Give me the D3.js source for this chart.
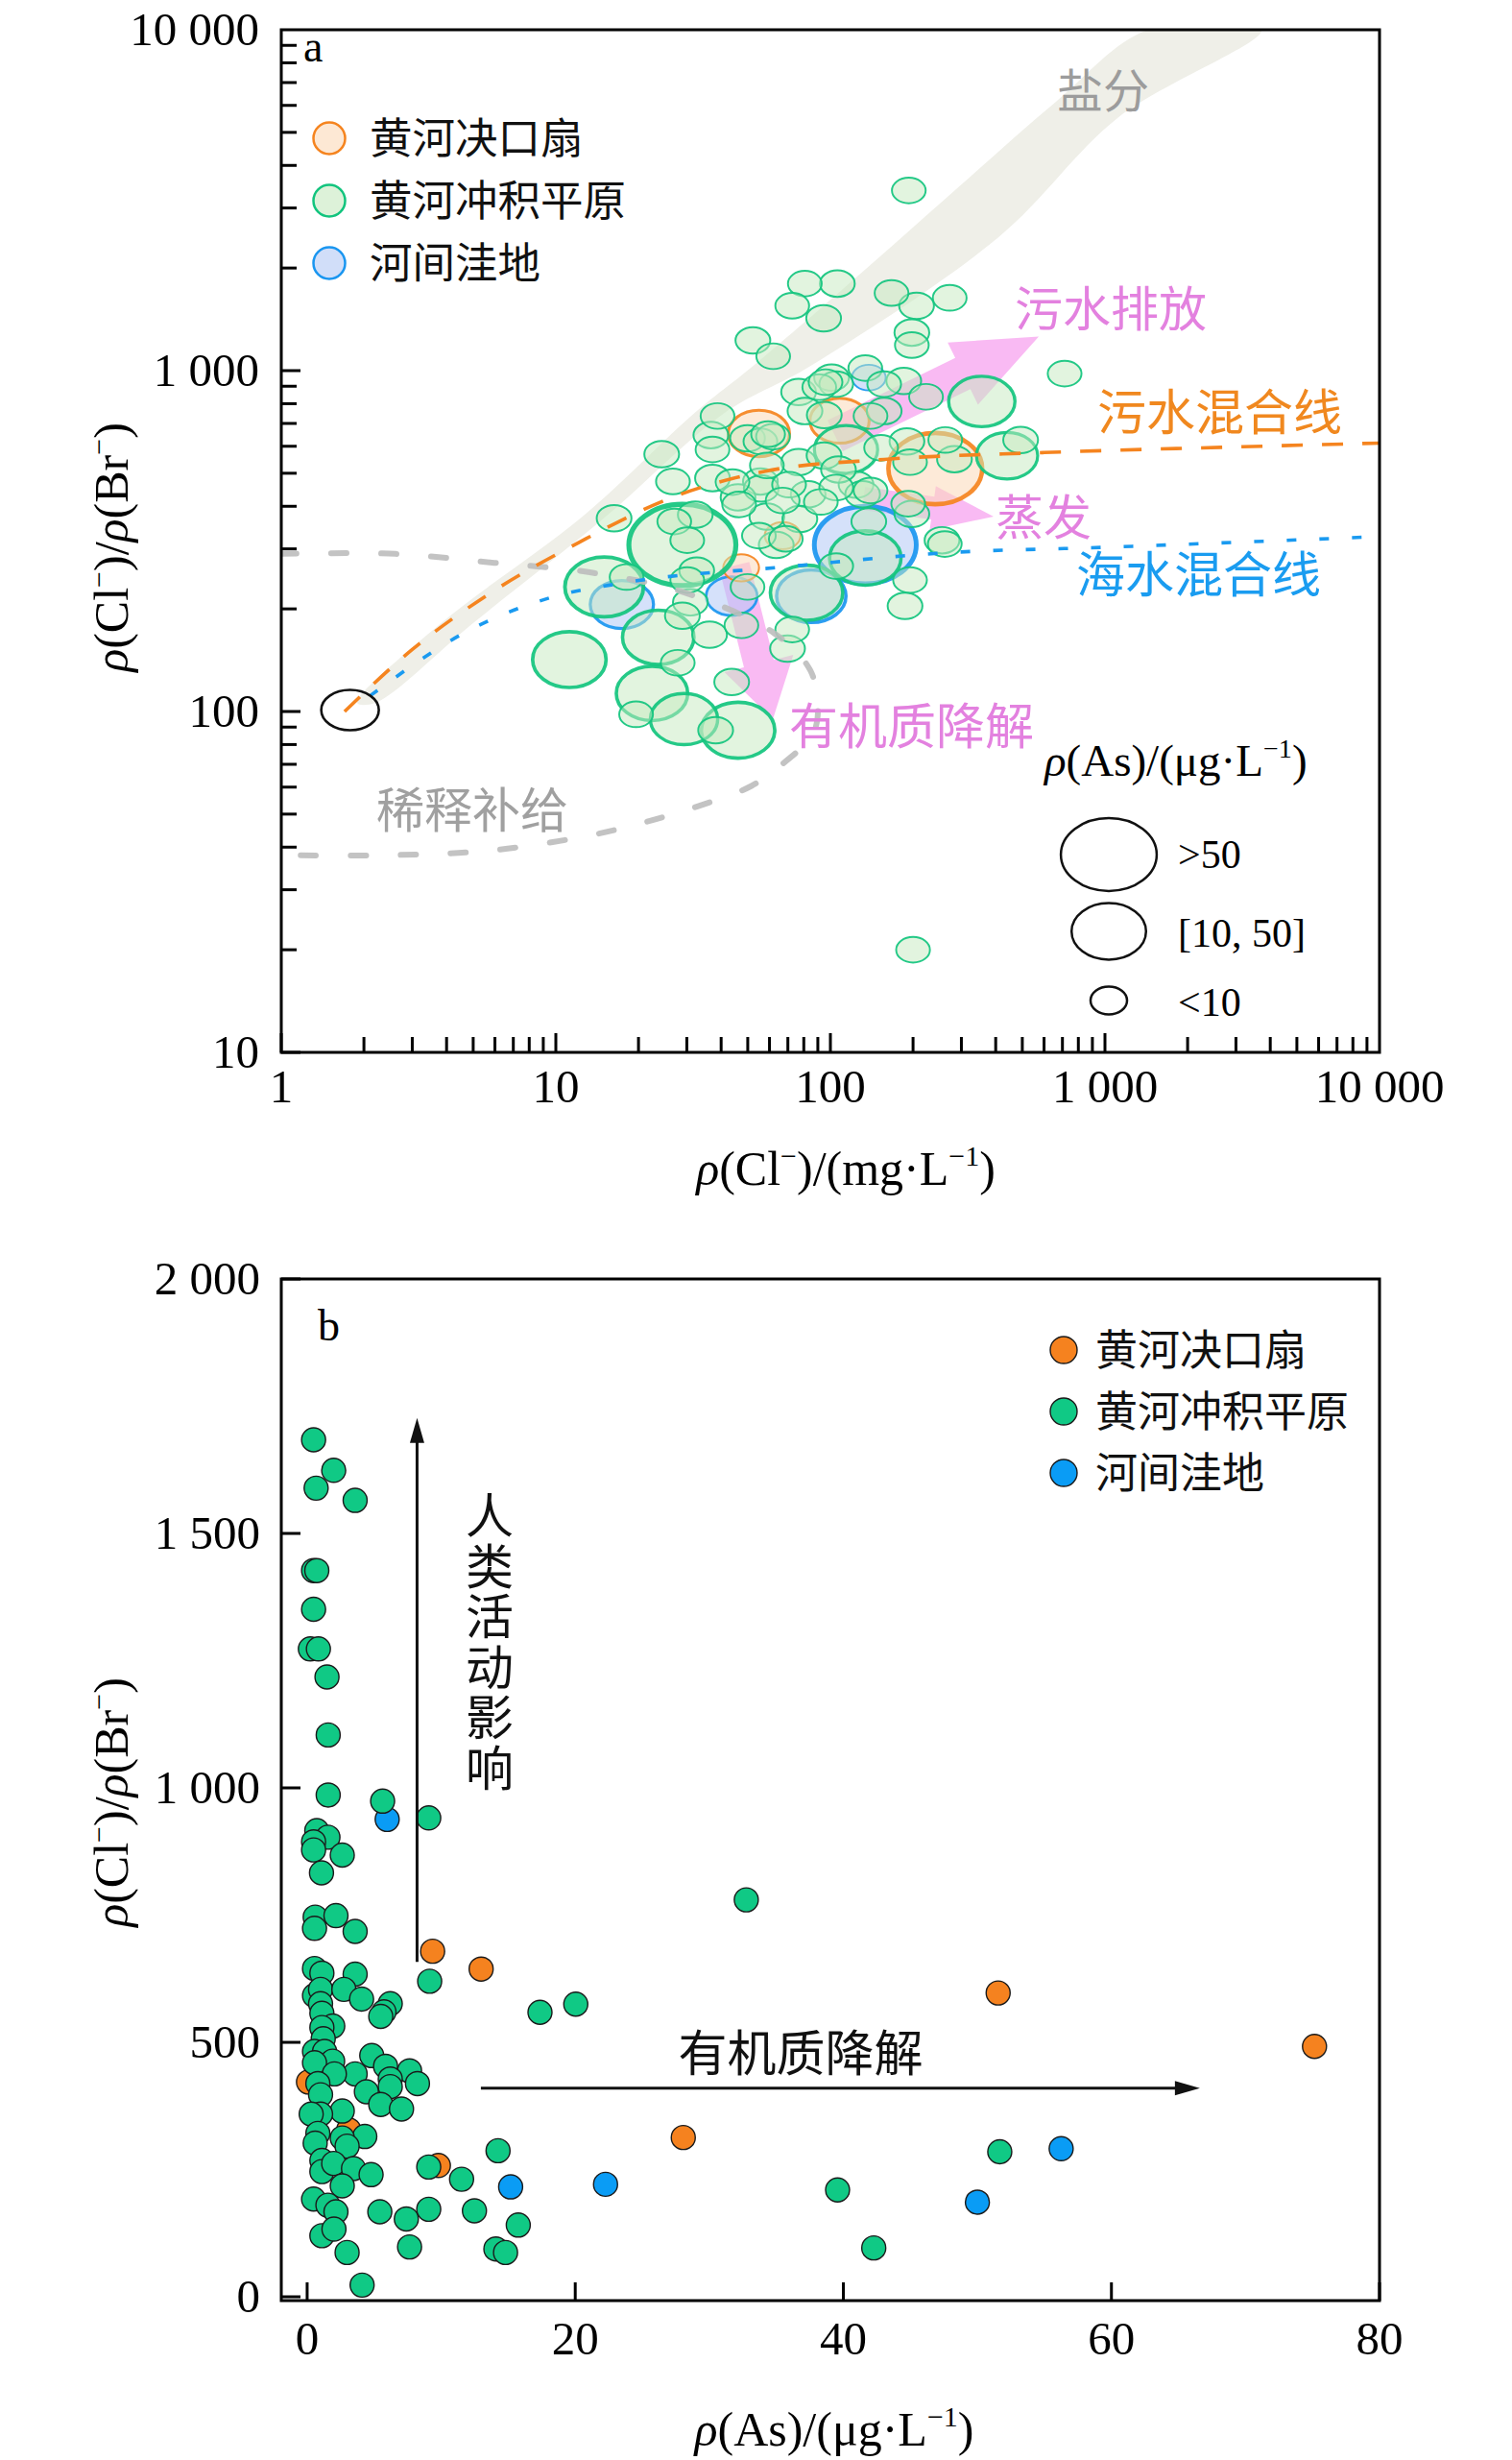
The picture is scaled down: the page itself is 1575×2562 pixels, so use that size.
<!DOCTYPE html>
<html><head><meta charset="utf-8">
<script src="https://cdn.jsdelivr.net/npm/d3@7"></script>
<style>body{margin:0;background:#fff}</style>
</head><body>
<svg id="c" width="1575" height="2562"></svg>
<script>
// ---------------- DATA ----------------
const groupNames = ["黄河决口扇", "黄河冲积平原", "河间洼地"];
// Panel a: [Cl (mg/L), Cl/Br, As (µg/L)]
const aFan = [[54.9,654,30],[108,713,28],[241,516,62],[47.3,264,5],[67,328,5]];
const aDep = [[138,954,3],[134,308,70],[17.4,206,32],[43.7,218,20],[85.2,218,38]];
const aPlainBig = [[356,812,35],[114,587,32],[440,563,30],[28.9,308,75],[134,282,40],[15.0,232,47],
  [81.9,223,41],[23.6,165,40],[11.2,142,42],[22.4,113,40],[29.3,95,36],[46.1,88.1,42]];
const aPlainSmall = [[80.7,1800,3],[106,1800,4],[72.6,1550,3],[94.5,1424,4],[167,1689,3],[206,1550,4],
  [272,1635,3],[198,1293,4],[198,1188,3],[52.2,1226,4],[61.9,1102,3],[193,3377,3],[713,980,3],
  [493,626,4],[261,310,3],[200,20.0,3],[134,1017,3],[101,954,4],[105,913,3],[76.6,866,4],[91.1,894,3],
  [157,913,3],[185,933,4],[223,838,3],[80.8,761,4],[140,736,3],[157,761,4],[38.8,736,3],[36.7,647,4],
  [37.2,587,3],[24.3,569,4],[26.7,473,3],[37.2,484,4],[55.6,620,3],[49.9,633,4],[61.8,640,3],
  [76.6,539,4],[58.7,527,3],[94.8,563,4],[153,594,3],[190,620,4],[262,626,3],[283,550,4],[195,539,3],
  [55.6,473,4],[70.7,463,3],[46.1,425,4],[67.0,416,3],[83.0,434,4],[105,454,3],[124,463,4],[92.3,412,3],
  [131,434,4],[192,407,3],[16.3,369,4],[27.0,361,3],[32.2,378,4],[30.1,318,3],[58.7,373,4],[54.9,328,3],
  [63.5,308,4],[68.8,321,3],[138,361,4],[105,267,3],[255,318,4],[195,243,3],[187,204,4],[18.1,248,3],
  [32.6,259,4],[30.1,243,3],[30.9,209,4],[49.9,232,3],[28.9,191,4],[47.4,179,3],[36.3,168,4],
  [72.6,174,3],[69.8,153,4],[27.8,139,3],[43.7,122,4],[19.6,98.1,3],[38.2,88.1,4],
  [96,925,3],[95,741,4],[59.3,651,3],[107,513,4],[44,471,3],[56,451,4],[140,445,3],[198,380,4],
  [46.5,405,3],[77.4,367,4]];
// reference / mixing lines (Cl, Cl/Br)
const sewageLine = [[1.7,100],[3,152],[5.8,223],[12.2,314],[26,422],[58,507],[157,549],[600,575],[3160,598],[10000,613]];
const seawaterLine = [[2.1,111],[4.96,175],[9.6,216],[18.6,240],[69.6,266],[261,292],[977,303],[10000,326]];
const dilutionLine = [[1,290],[2.61,290],[5.97,273],[13.3,256],[29.6,223],[62.2,170],[84.5,132],[90.1,101],
  [85.9,85.4],[66.4,69.8],[51.6,60.5],[32.4,52.5],[21,47.3],[13.7,43.5],[5.97,39.2],[2.52,37.9],[1,37.9]];
const salinityLeft = [[1.89,106],[3.8,181],[12.5,373],[32.1,753],[52.5,1035],[132,1959],[297,3492],[663,6152],[1437,10000]];
const salinityRight = [[3715,10000],[1119,5534],[409,2460],[85.1,1035],[41.3,753],[15.2,373],[4.97,181],[2.2,106]];
const endMember = [1.78, 101];
// process arrows [tail, tip] in (Cl, Cl/Br)
const arrowSewage = [[104,644],[574,1259]];
const arrowEvap = [[132,422],[393,373]];
const arrowOM = [[44.7,268],[61.7,94.8]];
const sizeLegend = [[">50",64],["[10, 50]",43],["<10",5.7]];
const xTicksA = [1,10,100,1000,10000];
const yTicksA = [10,100,1000,10000];

// Panel b: [As (µg/L), Cl/Br]
const bFan = [[9.36,679],[12.98,644],[9.79,258],[28.06,313],[51.55,597],[75.15,492],[0.1,422],[3.1,328]];
const bDep = [[5.97,938],[15.18,216],[22.26,221],[50.0,186],[56.25,291]];
const bPlain = [[0.48,1684],[1.98,1624],[0.67,1589],[3.58,1565],[0.48,1427],[0.72,1427],[0.48,1351],[0.24,1273],
  [0.84,1273],[1.48,1218],[1.57,1104],[1.57,986],[5.63,974],[9.07,941],[0.72,916],[1.55,903],[0.48,894],[0.48,878],
  [2.62,868],[1.07,833],[0.6,746],[2.15,749],[0.55,724],[3.58,718],[9.14,620],[17.37,559],[20.04,575],[0.55,645],
  [1.1,636],[3.58,634],[0.55,592],[1.0,604],[2.74,604],[4.06,585],[6.2,576],[5.73,560],[5.49,551],[1.0,576],
  [1.1,557],[1.91,532],[1.1,529],[1.2,507],[0.55,482],[1.3,482],[1.9,463],[0.55,460],[4.82,474],[5.85,453],
  [7.64,444],[8.23,419],[6.2,428],[6.2,413],[3.58,438],[2.03,438],[4.42,403],[5.49,378],[7.04,369],[0.8,419],
  [1.0,397],[2.62,365],[1.0,359],[0.3,359],[4.3,315],[0.8,321],[0.6,302],[2.62,312],[2.98,296],[1.1,268],
  [1.1,246],[1.98,262],[3.46,252],[4.77,240],[2.62,218],[0.48,192],[1.55,180],[2.15,167],[9.07,255],[11.52,231],
  [14.24,287],[5.42,167],[7.4,153],[9.07,172],[12.48,169],[15.75,141],[1.1,120],[2.0,133],[2.98,87],[7.64,98],
  [14.08,94],[14.8,87],[4.1,23],[32.76,780],[39.57,210],[42.27,96],[51.67,285]];
const xTicksB = [0,20,40,60,80];
const yTicksB = [0,500,1000,1500,2000];
const arrowHuman = [[8.2,658],[8.2,1727]];
const arrowOMb = [[12.96,410],[66.6,410]];

// ---------------- STYLE ----------------
const serif = "'Liberation Serif','Times New Roman',serif";
const cjk = "'Noto Sans CJK SC','Noto Sans CJK JP',sans-serif";
const ringCol = ["#f5841f", "#12c47e", "#1a96f0"];
const fillCol = ["#fbd9b8", "#c6eac0", "#b3c8f5"];
const dotCol = ["#f5821f", "#10c985", "#0a9cf5"];
const pink = "#f8b2f2", pinkText = "#e381df";

const svg = d3.select("#c");
const fmt = v => d3.format(",")(v).replace(/,/g, " ");

function rich(t, parts, fs) {
  let up = false;
  parts.forEach(p => {
    const s = t.append("tspan").text(p.t);
    if (p.i) s.attr("font-style", "italic");
    if (p.sup) { s.attr("font-size", fs * 0.6); if (!up) s.attr("dy", -fs * 0.4); up = true; }
    else if (up) { s.attr("dy", fs * 0.4); up = false; }
  });
}
function arrowPoly(T, P, bw, hw, hl) {
  const dx = P[0] - T[0], dy = P[1] - T[1], L = Math.hypot(dx, dy);
  const ux = dx / L, uy = dy / L, nx = -uy, ny = ux;
  const bx = P[0] - ux * hl, by = P[1] - uy * hl;
  return [[T[0] + nx * bw / 2, T[1] + ny * bw / 2], [bx + nx * bw / 2, by + ny * bw / 2], [bx + nx * hw / 2, by + ny * hw / 2],
    P, [bx - nx * hw / 2, by - ny * hw / 2], [bx - nx * bw / 2, by - ny * bw / 2], [T[0] - nx * bw / 2, T[1] - ny * bw / 2]];
}

// ================= PANEL A =================
const xA = d3.scaleLog().domain([1, 10000]).range([293, 1437]);
const yA = d3.scaleLog().domain([10, 10000]).range([1096, 31]);
const gA = svg.append("g");
svg.append("defs").append("clipPath").attr("id", "clipA").append("rect")
  .attr("x", 293).attr("y", 31).attr("width", 1144).attr("height", 1065);
const pA = gA.append("g").attr("clip-path", "url(#clipA)");
const P = d => [xA(d[0]), yA(d[1])];

// salinity band
const band = salinityLeft.concat(salinityRight).map(P);
pA.append("path").attr("d", d3.line().curve(d3.curveCatmullRomClosed.alpha(0.5))(band)).attr("fill", "#efefe8");

// pink process arrows
[[arrowSewage, 36, 72, 88], [arrowEvap, 24, 46, 64], [arrowOM, 32, 74, 60]].forEach(([a, bw, hw, hl]) => {
  pA.append("path").attr("d", d3.line()(arrowPoly(P(a[0]), P(a[1]), bw, hw, hl)) + "Z")
    .attr("fill", pink).attr("opacity", 0.9);
});

// bubbles
const rxS = d3.scaleLinear().domain([0, 80]).range([16, 58.4]);
function bubbles(data, gi) {
  const sorted = data.slice().sort((a, b) => b[2] - a[2]);
  pA.append("g").selectAll("ellipse").data(sorted).join("ellipse")
    .attr("cx", d => xA(d[0])).attr("cy", d => yA(d[1]))
    .attr("rx", d => rxS(d[2])).attr("ry", d => rxS(d[2]) * 0.76)
    .attr("fill", fillCol[gi]).attr("fill-opacity", gi === 1 ? 0.5 : 0.55)
    .attr("stroke", ringCol[gi]).attr("stroke-opacity", 0.92)
    .attr("stroke-width", d => 1.8 + d[2] * 0.045);
}
bubbles(aDep, 2);
bubbles(aFan, 0);
bubbles(aPlainBig.concat(aPlainSmall), 1);

// lines
const lineA = d3.line().x(d => xA(d[0])).y(d => yA(d[1]));
pA.append("path").attr("d", lineA.curve(d3.curveCatmullRom)(dilutionLine)).attr("fill", "none")
  .attr("stroke", "#bdbdbd").attr("stroke-width", 6).attr("stroke-dasharray", "16 36").attr("stroke-linecap", "round").attr("opacity", 0.9);
pA.append("path").attr("d", lineA.curve(d3.curveMonotoneX)(sewageLine)).attr("fill", "none")
  .attr("stroke", "#f5841f").attr("stroke-width", 3.6).attr("stroke-dasharray", "22 20");
pA.append("path").attr("d", lineA.curve(d3.curveMonotoneX)(seawaterLine)).attr("fill", "none")
  .attr("stroke", "#1a9af0").attr("stroke-width", 3.6).attr("stroke-dasharray", "10 24");

// end-member circle
pA.append("ellipse").attr("cx", xA(endMember[0])).attr("cy", yA(endMember[1])).attr("rx", 30).attr("ry", 21)
  .attr("fill", "none").attr("stroke", "#111").attr("stroke-width", 2.6);

// frame & ticks
gA.append("rect").attr("x", 293).attr("y", 31).attr("width", 1144).attr("height", 1065)
  .attr("fill", "none").attr("stroke", "#000").attr("stroke-width", 3);
for (let d = 1; d < 10000; d *= 10) for (let k = 1; k <= 9; k++) {
  const v = d * k, len = k === 1 ? 20 : 16;
  gA.append("line").attr("x1", xA(v)).attr("x2", xA(v)).attr("y1", 1096).attr("y2", 1096 - len).attr("stroke", "#000").attr("stroke-width", 3);
}
for (let d = 10; d < 10000; d *= 10) for (let k = 1; k <= 9; k++) {
  const v = d * k, len = k === 1 ? 20 : 16;
  gA.append("line").attr("y1", yA(v)).attr("y2", yA(v)).attr("x1", 293).attr("x2", 293 + len).attr("stroke", "#000").attr("stroke-width", 3);
}
gA.selectAll(".xl").data(xTicksA).join("text").attr("x", d => xA(d)).attr("y", 1148).attr("text-anchor", "middle")
  .attr("font-family", serif).attr("font-size", 49).text(fmt);
gA.selectAll(".yl").data(yTicksA).join("text").attr("x", 270).attr("y", d => yA(d) + 16).attr("text-anchor", "end")
  .attr("font-family", serif).attr("font-size", 49).text(fmt);

// axis titles
rich(gA.append("text").attr("x", 881).attr("y", 1234).attr("text-anchor", "middle").attr("font-family", serif).attr("font-size", 50),
  [{t: "ρ", i: 1}, {t: "(Cl"}, {t: "−", sup: 1}, {t: ")/(mg·L"}, {t: "−1", sup: 1}, {t: ")"}], 50);
rich(gA.append("text").attr("transform", "translate(133,570) rotate(-90)").attr("text-anchor", "middle").attr("font-family", serif).attr("font-size", 50),
  [{t: "ρ", i: 1}, {t: "(Cl"}, {t: "−", sup: 1}, {t: ")/"}, {t: "ρ", i: 1}, {t: "(Br"}, {t: "−", sup: 1}, {t: ")"}], 50);
gA.append("text").attr("x", 316).attr("y", 64).attr("font-family", serif).attr("font-size", 46).text("a");

// group legend
groupNames.forEach((n, i) => {
  const cy = 144 + i * 65;
  gA.append("circle").attr("cx", 343).attr("cy", cy).attr("r", 16.5).attr("fill", fillCol[i]).attr("fill-opacity", 0.6)
    .attr("stroke", ringCol[i]).attr("stroke-width", 2.5);
  gA.append("text").attr("x", 385).attr("y", cy + 16).attr("font-family", cjk).attr("font-size", 44.5).attr("fill", "#111").text(n);
});

// annotation labels
const lab = (x, y, t, c, fs) => gA.append("text").attr("x", x).attr("y", y).attr("font-family", cjk).attr("font-size", fs).attr("fill", c).text(t);
lab(1101, 112, "盐分", "#9c9c9c", 48);
lab(1057, 340, "污水排放", pinkText, 50);
lab(1143, 448, "污水混合线", "#f0881f", 51);
lab(1037, 557, "蒸发", pinkText, 50);
lab(1121, 617, "海水混合线", "#1a9cf0", 51);
lab(822, 775, "有机质降解", pinkText, 51);
lab(392, 862, "稀释补给", "#a0a0a0", 50);

// size legend
rich(gA.append("text").attr("x", 1088).attr("y", 808).attr("font-family", serif).attr("font-size", 47),
  [{t: "ρ", i: 1}, {t: "(As)/(μg·L"}, {t: "−1", sup: 1}, {t: ")"}], 47);
const slY = [890, 970, 1042], slTY = [904, 986, 1058];
sizeLegend.forEach((s, i) => {
  gA.append("ellipse").attr("cx", 1155).attr("cy", slY[i]).attr("rx", rxS(s[1])).attr("ry", rxS(s[1]) * 0.76)
    .attr("fill", "none").attr("stroke", "#111").attr("stroke-width", 2.5);
  gA.append("text").attr("x", 1227).attr("y", slTY[i]).attr("font-family", serif).attr("font-size", 42).text(s[0]);
});

// ================= PANEL B =================
const xB = d3.scaleLinear().domain([-1.93, 80]).range([293, 1437]);
const yB = d3.scaleLinear().domain([-7.5, 2000]).range([2396, 1332]);
const gB = svg.append("g");

[[bFan, 0], [bDep, 2], [bPlain, 1]].forEach(([data, gi]) => {
  gB.append("g").selectAll("circle").data(data).join("circle")
    .attr("cx", d => xB(d[0])).attr("cy", d => yB(d[1])).attr("r", 12.5)
    .attr("fill", dotCol[gi]).attr("stroke", "#1a1a1a").attr("stroke-width", 1.4);
});

// arrows
function lineArrow(a, dir) {
  const x1 = xB(a[0][0]), y1 = yB(a[0][1]), x2 = xB(a[1][0]), y2 = yB(a[1][1]);
  const hl = 26, hw = 15;
  if (dir === "up") {
    gB.append("line").attr("x1", x1).attr("y1", y1).attr("x2", x2).attr("y2", y2 + hl - 2).attr("stroke", "#111").attr("stroke-width", 3);
    gB.append("path").attr("d", d3.line()([[x2, y2], [x2 - hw / 2, y2 + hl], [x2 + hw / 2, y2 + hl]]) + "Z").attr("fill", "#111");
  } else {
    gB.append("line").attr("x1", x1).attr("y1", y1).attr("x2", x2 - hl + 2).attr("y2", y2).attr("stroke", "#111").attr("stroke-width", 3);
    gB.append("path").attr("d", d3.line()([[x2, y2], [x2 - hl, y2 - hw / 2], [x2 - hl, y2 + hw / 2]]) + "Z").attr("fill", "#111");
  }
}
lineArrow(arrowHuman, "up");
lineArrow(arrowOMb, "right");
gB.append("text").attr("x", 510).attr("y", 1553)
  .style("writing-mode", "vertical-rl").attr("letter-spacing", 2.6)
  .attr("font-family", cjk).attr("font-size", 50).attr("fill", "#111").text("人类活动影响");
gB.append("text").attr("x", 834).attr("y", 2157).attr("text-anchor", "middle").attr("font-family", cjk)
  .attr("font-size", 51).attr("fill", "#111").text("有机质降解");

// frame & ticks
gB.append("rect").attr("x", 293).attr("y", 1332).attr("width", 1144).attr("height", 1064)
  .attr("fill", "none").attr("stroke", "#000").attr("stroke-width", 3);
xTicksB.forEach(v => gB.append("line").attr("x1", xB(v)).attr("x2", xB(v)).attr("y1", 2396).attr("y2", 2377).attr("stroke", "#000").attr("stroke-width", 3));
yTicksB.forEach(v => gB.append("line").attr("y1", yB(v)).attr("y2", yB(v)).attr("x1", 293).attr("x2", 313).attr("stroke", "#000").attr("stroke-width", 3));
gB.selectAll(".xl").data(xTicksB).join("text").attr("x", d => xB(d)).attr("y", 2452).attr("text-anchor", "middle")
  .attr("font-family", serif).attr("font-size", 49).text(fmt);
gB.selectAll(".yl").data(yTicksB).join("text").attr("x", 271).attr("y", d => yB(d) + 16).attr("text-anchor", "end")
  .attr("font-family", serif).attr("font-size", 49).text(fmt);

rich(gB.append("text").attr("x", 869).attr("y", 2547).attr("text-anchor", "middle").attr("font-family", serif).attr("font-size", 50),
  [{t: "ρ", i: 1}, {t: "(As)/(μg·L"}, {t: "−1", sup: 1}, {t: ")"}], 50);
rich(gB.append("text").attr("transform", "translate(133,1877) rotate(-90)").attr("text-anchor", "middle").attr("font-family", serif).attr("font-size", 50),
  [{t: "ρ", i: 1}, {t: "(Cl"}, {t: "−", sup: 1}, {t: ")/"}, {t: "ρ", i: 1}, {t: "(Br"}, {t: "−", sup: 1}, {t: ")"}], 50);
gB.append("text").attr("x", 331).attr("y", 1396).attr("font-family", serif).attr("font-size", 46).text("b");

groupNames.forEach((n, i) => {
  const cy = 1406 + i * 64;
  gB.append("circle").attr("cx", 1108).attr("cy", cy).attr("r", 14).attr("fill", dotCol[i]).attr("stroke", "#1a1a1a").attr("stroke-width", 1.4);
  gB.append("text").attr("x", 1141).attr("y", cy + 16).attr("font-family", cjk).attr("font-size", 44).attr("fill", "#111").text(n);
});
</script>
</body></html>
